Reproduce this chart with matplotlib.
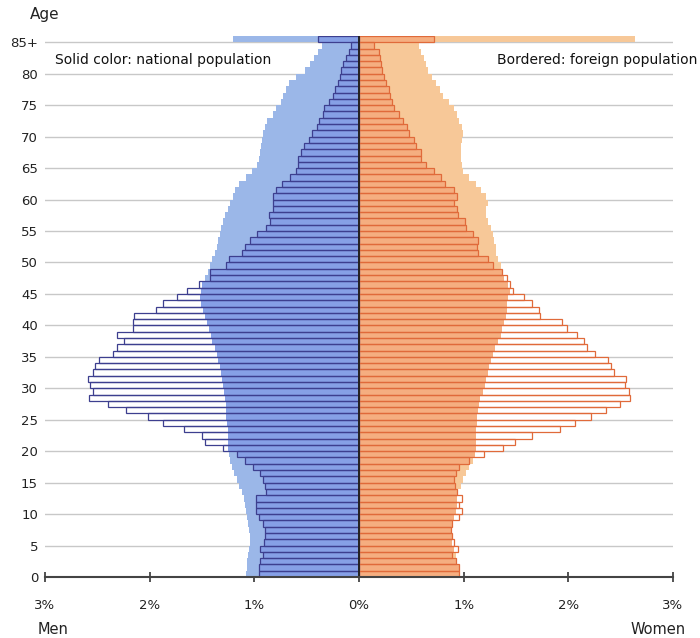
import numpy as np
import matplotlib
matplotlib.use("Agg")
import matplotlib.pyplot as plt

# ages 0..84 and 85+ (share of total population, %)
ages = np.arange(86)
age_ticks = list(range(0, 85, 5)) + [85]
age_labels = [str(a) for a in range(0, 85, 5)] + ["85+"]
x_ticks = [-3, -2, -1, 0, 1, 2, 3]
x_labels = ["3%", "2%", "1%", "0%", "1%", "2%", "3%"]

men_nat = [1.08, 1.07, 1.07, 1.06, 1.05, 1.04, 1.04, 1.05, 1.06, 1.07,
           1.08, 1.09, 1.10, 1.12, 1.15, 1.17, 1.19, 1.21, 1.23, 1.24,
           1.25, 1.25, 1.25, 1.25, 1.26, 1.27, 1.27, 1.27, 1.28, 1.29,
           1.30, 1.31, 1.32, 1.33, 1.35, 1.36, 1.38, 1.40, 1.41, 1.43,
           1.45, 1.47, 1.49, 1.51, 1.52, 1.51, 1.50, 1.47, 1.44, 1.42,
           1.40, 1.38, 1.36, 1.35, 1.33, 1.32, 1.30, 1.28, 1.25, 1.23,
           1.20, 1.18, 1.15, 1.08, 1.02, 0.97, 0.96, 0.95, 0.94, 0.93,
           0.92, 0.90, 0.88, 0.82, 0.79, 0.75, 0.73, 0.70, 0.67, 0.60,
           0.52, 0.47, 0.43, 0.39, 0.35, 1.20]

men_for = [0.96, 0.96, 0.95, 0.92, 0.95, 0.91, 0.90, 0.90, 0.92, 0.96,
           0.98, 0.98, 0.98, 0.89, 0.90, 0.92, 0.95, 1.01, 1.09, 1.17,
           1.30, 1.47, 1.50, 1.67, 1.87, 2.02, 2.23, 2.40, 2.58, 2.54,
           2.57, 2.59, 2.54, 2.52, 2.48, 2.35, 2.31, 2.25, 2.31, 2.16,
           2.16, 2.15, 1.94, 1.87, 1.74, 1.64, 1.53, 1.42, 1.42, 1.27,
           1.24, 1.12, 1.09, 1.04, 0.97, 0.89, 0.85, 0.86, 0.82, 0.82,
           0.82, 0.79, 0.74, 0.66, 0.60, 0.58, 0.58, 0.55, 0.53, 0.48,
           0.45, 0.40, 0.38, 0.34, 0.33, 0.29, 0.25, 0.23, 0.20, 0.18,
           0.17, 0.15, 0.12, 0.10, 0.08, 0.39]

women_nat = [0.96, 0.96, 0.94, 0.93, 0.91, 0.89, 0.89, 0.89, 0.89, 0.91,
             0.93, 0.94, 0.94, 0.95, 0.97, 0.99, 1.02, 1.05, 1.09, 1.11,
             1.12, 1.12, 1.12, 1.12, 1.13, 1.13, 1.14, 1.15, 1.16, 1.18,
             1.20, 1.21, 1.23, 1.24, 1.26, 1.28, 1.30, 1.33, 1.36, 1.37,
             1.39, 1.40, 1.41, 1.41, 1.42, 1.44, 1.42, 1.39, 1.37, 1.36,
             1.33, 1.31, 1.31, 1.29, 1.28, 1.26, 1.23, 1.21, 1.21, 1.23,
             1.21, 1.17, 1.12, 1.05, 0.99, 0.98, 0.97, 0.97, 0.97, 0.98,
             0.99, 0.98, 0.96, 0.94, 0.91, 0.86, 0.80, 0.77, 0.74, 0.70,
             0.66, 0.64, 0.62, 0.59, 0.57, 2.64]

women_for = [0.96, 0.96, 0.93, 0.89, 0.95, 0.91, 0.89, 0.88, 0.89, 0.96,
             0.98, 0.96, 0.98, 0.94, 0.92, 0.91, 0.93, 0.96, 1.05, 1.19,
             1.38, 1.49, 1.65, 1.92, 2.06, 2.22, 2.36, 2.49, 2.59, 2.58,
             2.54, 2.55, 2.44, 2.41, 2.38, 2.25, 2.18, 2.15, 2.08, 1.99,
             1.94, 1.73, 1.72, 1.65, 1.58, 1.47, 1.44, 1.41, 1.37, 1.28,
             1.23, 1.14, 1.13, 1.14, 1.09, 1.02, 1.01, 0.95, 0.94, 0.91,
             0.94, 0.91, 0.82, 0.78, 0.72, 0.64, 0.59, 0.59, 0.54, 0.53,
             0.48, 0.46, 0.42, 0.38, 0.33, 0.32, 0.30, 0.29, 0.26, 0.24,
             0.22, 0.21, 0.20, 0.19, 0.14, 0.72]

# colours
men_light, men_mid, men_edge = "#9bb7e8", "#86a0e6", "#3d3f8f"
wom_light, wom_mid, wom_edge = "#f7c898", "#f5ae80", "#e06a3a"

fig = plt.figure(figsize=(7, 6.38), dpi=100)
ax = fig.add_axes([45 / 700, 1 - 577 / 638, 628 / 700, 541 / 638])

y = ages + 0.5
mn, mf = np.array(men_nat), np.array(men_for)
wn, wf = np.array(women_nat), np.array(women_for)

for nat, fr, sign, light, mid, edge in [(mn, mf, -1, men_light, men_mid, men_edge),
                                         (wn, wf, 1, wom_light, wom_mid, wom_edge)]:
    # white backing for foreign bars, hides the grid
    ax.barh(y, sign * fr, height=1.0, color="white", linewidth=0, zorder=1)
    ax.barh(y, sign * nat, height=1.0, color=light, linewidth=0, zorder=2)
    ax.barh(y, sign * np.minimum(nat, fr), height=1.0, color=mid, linewidth=0, zorder=3)
    ax.barh(y, sign * fr, height=1.0, fill=False, edgecolor=edge, linewidth=0.9, zorder=4)

# horizontal grid every 5 years
for a in age_ticks[1:]:
    ax.axhline(a, color="#c8c8c8", linewidth=1, zorder=0)
ax.axvline(0, color="#222222", linewidth=1.4, zorder=5)

ax.set_xlim(-3, 3)
ax.set_ylim(0, 86)
ax.set_xticks(x_ticks)
ax.set_xticklabels(x_labels)
ax.set_yticks(age_ticks)
ax.set_yticklabels(age_labels)
ax.tick_params(axis="y", length=0, pad=5, labelsize=9.5, colors="#222222")
ax.tick_params(axis="x", direction="inout", length=7, width=1.3, color="#444444",
               pad=12, labelsize=9.5, labelcolor="#222222")
for s in ["top", "right", "left"]:
    ax.spines[s].set_visible(False)
ax.spines["bottom"].set_color("#444444")
ax.spines["bottom"].set_linewidth(1.5)
ax.spines["bottom"].set_zorder(6)

fig.text(30 / 700, 1 - 15 / 638, "Age", ha="left", va="center", fontsize=11, color="#222222")
fig.text(55 / 700, 1 - 60 / 638, "Solid color: national population", ha="left", va="center",
         fontsize=10, color="#111111")
fig.text(697 / 700, 1 - 60 / 638, "Bordered: foreign population", ha="right", va="center",
         fontsize=10, color="#111111")
fig.text(38 / 700, 1 - 630 / 638, "Men", ha="left", va="center", fontsize=10.5, color="#222222")
fig.text(686 / 700, 1 - 630 / 638, "Women", ha="right", va="center", fontsize=10.5, color="#222222")

fig.savefig("out.png", dpi=100)
